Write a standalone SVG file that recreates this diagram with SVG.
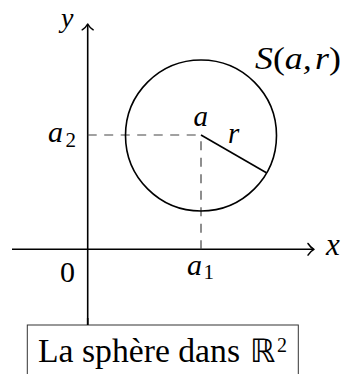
<svg xmlns="http://www.w3.org/2000/svg" width="343" height="374" viewBox="0 0 343 374">
<style>
svg #labels text, svg #caption text.t { font-family: 'Liberation Serif', serif !important; }
svg #caption text.bb { font-family: 'DejaVu Sans', sans-serif !important; }
</style>
<rect width="343" height="374" fill="#fff"/>
<g id="connectors" fill="none" stroke="#000">
  <g stroke-width="1.6">
    <line x1="12" y1="249.3" x2="313.5" y2="249.3"/>
    <line x1="87.7" y1="325" x2="87.7" y2="24.5"/>
  </g>
  <g stroke-width="1.5" stroke-linecap="round" stroke-linejoin="round">
    <path d="M308,243.5 Q310.5,247.5 314,249.3 Q310.5,251.1 308,255.1"/>
    <path d="M82.2,29.8 Q86,27.3 87.7,24 Q89.4,27.3 93.2,29.8"/>
  </g>
  <g stroke="#444" stroke-width="1.2" stroke-dasharray="9 7.5">
    <line x1="87.7" y1="135" x2="201" y2="135"/>
    <line x1="201" y1="249.3" x2="201" y2="135"/>
  </g>
</g>
<g id="circle" fill="none" stroke="#000" stroke-width="1.6">
  <circle cx="201" cy="135.5" r="75.5"/>
  <line x1="201" y1="135" x2="266.4" y2="172.8"/>
</g>
<g id="labels" fill="#000">
  <text style="font-family:'Liberation Serif',serif;font-style:italic" x="61" y="27" font-size="28">y</text>
  <text style="font-family:'Liberation Serif',serif;font-style:italic" x="255" y="69" font-size="32" textLength="86" lengthAdjust="spacingAndGlyphs">S<tspan style="font-style:normal">(</tspan>a,<tspan dx="3">r</tspan><tspan style="font-style:normal">)</tspan></text>
  <text style="font-family:'Liberation Serif',serif;font-style:italic" x="193.5" y="126" font-size="29">a</text>
  <text style="font-family:'Liberation Serif',serif;font-style:italic" x="228" y="143" font-size="29">r</text>
  <text style="font-family:'Liberation Serif',serif;font-style:italic" x="48" y="142" font-size="30">a</text>
  <text style="font-family:'Liberation Serif',serif" x="65.5" y="147" font-size="21">2</text>
  <text style="font-family:'Liberation Serif',serif" x="60" y="282" font-size="30">0</text>
  <text style="font-family:'Liberation Serif',serif;font-style:italic" x="187" y="275" font-size="30">a</text>
  <text style="font-family:'Liberation Serif',serif" x="203.5" y="279" font-size="21">1</text>
  <text style="font-family:'Liberation Serif',serif;font-style:italic" x="326" y="255" font-size="31">x</text>
</g>
<g id="caption">
  <rect x="27.3" y="325" width="271" height="60" fill="#fff" stroke="#333" stroke-width="1"/>
  <line x1="87.7" y1="318" x2="87.7" y2="325" stroke="#000" stroke-width="1.6"/>
  <text class="t" style="font-family:'Liberation Serif',serif" x="38" y="362" font-size="34" textLength="202" lengthAdjust="spacingAndGlyphs">La sphère dans</text>
  <text class="bb" style="font-family:'DejaVu Sans',sans-serif" x="250" y="362" font-size="32">ℝ</text>
  <text class="t" style="font-family:'Liberation Serif',serif" x="277" y="352" font-size="20">2</text>
</g>
</svg>
